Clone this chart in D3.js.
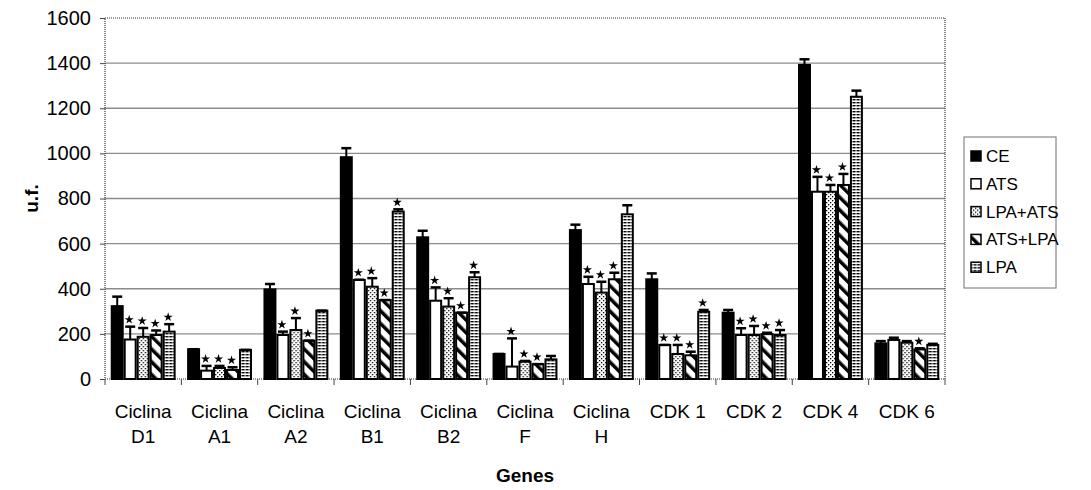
<!DOCTYPE html>
<html>
<head>
<meta charset="utf-8">
<script src="https://cdn.jsdelivr.net/npm/d3@7"></script>
<style>
  body { margin: 0; background: #fff; }
  text { font-family: "Liberation Sans", Arial, sans-serif; }
</style>
</head>
<body>
<script>
// categories (two label lines each)
var genes = ["Ciclina D1", "Ciclina A1", "Ciclina A2", "Ciclina B1", "Ciclina B2",
             "Ciclina F", "Ciclina H", "CDK 1", "CDK 2", "CDK 4", "CDK 6"];
var seriesNames = ["CE", "ATS", "LPA+ATS", "ATS+LPA", "LPA"];

// mean values (u.f.)
var ce     = [323, 132, 397, 983, 628, 111, 660, 442, 294, 1392, 158];
var ats    = [175,  37, 195, 439, 347,  55, 421, 151, 195,  830, 173];
var lpaAts = [187,  49, 217, 409, 321,  77, 383, 111, 195,  830, 161];
var atsLpa = [195,  40, 170, 350, 294,  66, 442, 105, 199,  860, 131];
var lpa    = [210, 129, 303, 742, 451,  87, 730, 298, 195, 1251, 151];

// error bars (+SD)
var ceErr     = [42, 0, 24, 40, 29, 0, 24, 26, 12, 25, 10];
var atsErr    = [57, 21, 15, 1, 59, 125, 32, 0, 30, 66, 10];
var lpaAtsErr = [39, 9, 53, 38, 37, 3, 48, 40, 40, 30, 7];
var atsLpaErr = [20, 12, 0, 0, 0, 0, 29, 16, 6, 49, 5];
var lpaErr    = [33, 0, 0, 10, 22, 15, 40, 8, 22, 27, 5];

// significance marks (*)
var ceStar     = [0,0,0,0,0,0,0,0,0,0,0];
var atsStar    = [1,1,1,1,1,1,1,1,1,1,0];
var lpaAtsStar = [1,1,1,1,1,1,1,1,1,1,0];
var atsLpaStar = [1,1,1,1,1,1,1,1,1,1,1];
var lpaStar    = [1,0,0,1,1,0,0,1,1,0,0];

var yTicks = [0, 200, 400, 600, 800, 1000, 1200, 1400, 1600];

var values = [ce, ats, lpaAts, atsLpa, lpa];
var errs = [ceErr, atsErr, lpaAtsErr, atsLpaErr, lpaErr];
var stars = [ceStar, atsStar, lpaAtsStar, atsLpaStar, lpaStar];
var fills = ["#000", "#fff", "url(#pDots)", "url(#pStripe)", "url(#pGrid)"];

var W = 1091, H = 490;
var margin = {left: 105, right: 146, top: 18, bottom: 111};
var iw = W - margin.left - margin.right;
var ih = H - margin.top - margin.bottom;

var svg = d3.select("body").append("svg")
    .attr("width", W)
    .attr("height", H);

// fill patterns
var defs = svg.append("defs");
var pd = defs.append("pattern").attr("id", "pDots")
    .attr("patternUnits", "userSpaceOnUse").attr("width", 4).attr("height", 4);
pd.append("rect").attr("width", 4).attr("height", 4).attr("fill", "#fff");
pd.append("rect").attr("x", 0).attr("y", 0).attr("width", 1.3).attr("height", 1.3).attr("fill", "#000");
pd.append("rect").attr("x", 2).attr("y", 2).attr("width", 1.3).attr("height", 1.3).attr("fill", "#000");

var ps = defs.append("pattern").attr("id", "pStripe")
    .attr("patternUnits", "userSpaceOnUse").attr("width", 9).attr("height", 9)
    .attr("patternTransform", "rotate(-45)");
ps.append("rect").attr("width", 9).attr("height", 9).attr("fill", "#fff");
ps.append("rect").attr("x", 0).attr("width", 3.5).attr("height", 9).attr("fill", "#000");

var pg = defs.append("pattern").attr("id", "pGrid")
    .attr("patternUnits", "userSpaceOnUse").attr("width", 4).attr("height", 3);
pg.append("rect").attr("width", 4).attr("height", 3).attr("fill", "#fff");
pg.append("rect").attr("x", 0).attr("y", 0).attr("width", 1.6).attr("height", 1.4).attr("fill", "#000");
pg.append("rect").attr("x", 2.5).attr("y", 0).attr("width", 1.5).attr("height", 1.4).attr("fill", "#000");

var g = svg.append("g").attr("transform", "translate(" + margin.left + "," + margin.top + ")");

var x0 = d3.scaleBand().domain(genes).range([0, iw]).paddingInner(0.15).paddingOuter(0.075);
var x1 = d3.scaleBand().domain(d3.range(5)).range([0, x0.bandwidth()]);
var y = d3.scaleLinear().domain([0, 1600]).range([ih, 0]);

// gridlines
g.selectAll("line.grid")
    .data(yTicks.filter(function(d) { return d > 0 && d < 1600; }))
    .enter().append("line")
    .attr("class", "grid")
    .attr("x1", 0).attr("x2", iw)
    .attr("y1", function(d) { return y(d); })
    .attr("y2", function(d) { return y(d); })
    .attr("stroke", "#8c8c8c").attr("stroke-width", 1.3);

// plot border (dotted)
g.append("rect")
    .attr("x", 0).attr("y", 0).attr("width", iw).attr("height", ih)
    .attr("fill", "none").attr("stroke", "#333").attr("stroke-width", 1.2)
    .attr("stroke-dasharray", "1,1");

// y axis
var yAxis = g.append("g")
    .call(d3.axisLeft(y).tickValues(yTicks).tickFormat(d3.format("d")).tickSize(5).tickPadding(9));
yAxis.select(".domain").remove();
yAxis.selectAll("line").attr("stroke", "#444");
yAxis.selectAll("text").attr("font-size", 20).attr("fill", "#000");

// x axis ticks at category boundaries
var bounds = d3.range(genes.length + 1).map(function(i) { return i * x0.step(); });
g.selectAll("line.xt").data(bounds).enter().append("line")
    .attr("class", "xt")
    .attr("x1", function(d) { return d; }).attr("x2", function(d) { return d; })
    .attr("y1", ih).attr("y2", ih + 6)
    .attr("stroke", "#444");

// x labels
var xl = g.selectAll("text.xl").data(genes).enter().append("text")
    .attr("class", "xl")
    .attr("text-anchor", "middle")
    .attr("font-size", 19)
    .attr("transform", function(d) { return "translate(" + (x0(d) + x0.bandwidth() / 2) + "," + (ih + 39) + ")"; });
xl.each(function(d) {
    var parts = d.split(" ");
    var t = d3.select(this);
    if (parts[0] === "Ciclina") {
        t.append("tspan").attr("x", 0).attr("dy", 0).text(parts[0]);
        t.append("tspan").attr("x", 0).attr("dy", 25).text(parts[1]);
    } else {
        t.text(d);
    }
});

// bars
var groups = g.selectAll("g.gene").data(genes).enter().append("g")
    .attr("class", "gene")
    .attr("transform", function(d) { return "translate(" + x0(d) + ",0)"; });

groups.each(function(gene, gi) {
    var gg = d3.select(this);
    var rows = d3.range(5).map(function(s) {
        return {s: s, v: values[s][gi], e: errs[s][gi], star: stars[s][gi]};
    });
    gg.selectAll("rect.bar").data(rows).enter().append("rect")
        .attr("class", "bar")
        .attr("x", function(d) { return x1(d.s) + 1; })
        .attr("y", function(d) { return y(d.v); })
        .attr("width", x1.bandwidth() - 2)
        .attr("height", function(d) { return ih - y(d.v); })
        .attr("fill", function(d) { return fills[d.s]; })
        .attr("stroke", "#000").attr("stroke-width", 2);

    // error bars
    var eb = gg.selectAll("g.err").data(rows).enter().append("g").attr("class", "err");
    eb.append("line")
        .attr("x1", function(d) { return x1(d.s) + x1.bandwidth() / 2; })
        .attr("x2", function(d) { return x1(d.s) + x1.bandwidth() / 2; })
        .attr("y1", function(d) { return y(d.v); })
        .attr("y2", function(d) { return y(d.v + d.e); })
        .attr("stroke", "#000").attr("stroke-width", 2);
    eb.append("line")
        .attr("x1", function(d) { return x1(d.s) + x1.bandwidth() / 2 - 5; })
        .attr("x2", function(d) { return x1(d.s) + x1.bandwidth() / 2 + 5; })
        .attr("y1", function(d) { return y(d.v + d.e); })
        .attr("y2", function(d) { return y(d.v + d.e); })
        .attr("stroke", "#000").attr("stroke-width", 2.5);

    // stars
    gg.selectAll("path.star").data(rows.filter(function(d) { return d.star; })).enter()
        .append("path")
        .attr("class", "star")
        .attr("d", d3.symbol().type(d3.symbolStar).size(26))
        .attr("transform", function(d) {
            return "translate(" + (x1(d.s) + x1.bandwidth() / 2 - 1) + "," + (y(d.v + d.e) - 7) + ")";
        })
        .attr("fill", "#000");
});

// axis titles
svg.append("text")
    .attr("transform", "translate(38," + (margin.top + ih / 2) + ") rotate(-90)")
    .attr("text-anchor", "middle")
    .attr("font-size", 19).attr("font-weight", "bold")
    .text("u.f.");
svg.append("text")
    .attr("x", margin.left + iw / 2).attr("y", 482)
    .attr("text-anchor", "middle")
    .attr("font-size", 19).attr("font-weight", "bold")
    .text("Genes");

// legend
var lg = svg.append("g").attr("transform", "translate(964,137)");
lg.append("rect")
    .attr("width", 92).attr("height", 151)
    .attr("fill", "#fff").attr("stroke", "#888").attr("stroke-width", 1.2);
var li = lg.selectAll("g.li").data(seriesNames).enter().append("g")
    .attr("class", "li")
    .attr("transform", function(d, i) { return "translate(7," + (19 + i * 27.8) + ")"; });
li.append("rect")
    .attr("x", 0).attr("y", -5).attr("width", 10).attr("height", 10)
    .attr("fill", function(d, i) { return fills[i]; })
    .attr("stroke", "#000").attr("stroke-width", 1.5);
li.append("text")
    .attr("x", 15).attr("y", 6)
    .attr("font-size", 17)
    .text(function(d) { return d; });
</script>
</body>
</html>
